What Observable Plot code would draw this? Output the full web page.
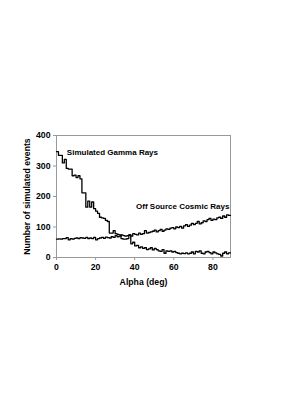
<!DOCTYPE html>
<html><head><meta charset="utf-8">
<script src="https://cdn.jsdelivr.net/npm/d3@7"></script>
<script src="https://cdn.jsdelivr.net/npm/@observablehq/plot@0.6"></script>
<style>body{margin:0;background:#fff}</style>
</head><body><div id="chart"></div>
<script>
const gamma = [347,335,335,310,322,292,290,290,268,270,262,268,258,212,212,165,185,165,182,160,152,145,132,130,128,122,118,80,80,88,78,76,74,62,60,60,62,74,45,50,38,40,32,35,30,32,26,28,32,25,30,26,22,20,26,14,22,20,22,18,20,16,14,12,14,13,15,12,14,18,12,20,18,22,14,12,18,20,16,12,18,15,12,10,5,14,18,12,15];
const cosmic = [60,61,60,62,62,65,58,62,60,63,64,62,65,64,63,66,62,64,62,66,58,62,64,66,63,67,65,64,68,66,72,68,70,74,72,70,72,74,70,78,76,74,80,76,78,88,80,82,84,86,90,84,88,92,86,90,94,92,96,98,94,100,98,102,96,104,108,102,106,112,108,112,118,110,114,120,118,124,128,122,126,124,130,132,128,136,132,140,138];
const xTicks = [0,20,40,60,80];
const yTicks = [0,100,200,300,400];
const labels = [
  {x: 5.3, y: 345, text: "Simulated Gamma Rays"},
  {x: 40.7, y: 168, text: "Off Source Cosmic Rays"}
];
function steps(vals){
  const r = vals.map((v,i)=>({x:i,y:v}));
  r.push({x:vals.length,y:vals[vals.length-1]});
  return r;
}
const chart = Plot.plot({
  width: 289, height: 409,
  marginLeft: 56, marginRight: 59, marginTop: 135, marginBottom: 152,
  style: {fontFamily: "Liberation Sans, Arial, sans-serif", fontSize: "8.7px", fontWeight: "bold", color: "#000", background: "#fff"},
  x: {domain: [0, 89]},
  y: {domain: [0, 400]},
  marks: [
    Plot.frame({stroke: "#999"}),
    Plot.axisX({ticks: xTicks, tickSize: 3, tickPadding: 3, stroke: "#999", fill: "#000", fontWeight: "bold", label: "Alpha (deg)", labelAnchor: "center", labelArrow: "none", labelOffset: 27}),
    Plot.axisY({ticks: yTicks, tickSize: 3, tickPadding: 3, stroke: "#999", fill: "#000", fontWeight: "bold", label: "Number of simulated events", labelAnchor: "center", labelArrow: "none", labelOffset: 33}),
    Plot.line(steps(gamma), {x: "x", y: "y", curve: "step-after", stroke: "#000", strokeWidth: 1.3}),
    Plot.line(steps(cosmic), {x: "x", y: "y", curve: "step-after", stroke: "#000", strokeWidth: 1.3}),
    Plot.text(labels, {x: "x", y: "y", text: "text", textAnchor: "start", fontSize: 8, fontWeight: "bold", fill: "#000"})
  ]
});
document.getElementById("chart").appendChild(chart);
</script>
</body></html>
